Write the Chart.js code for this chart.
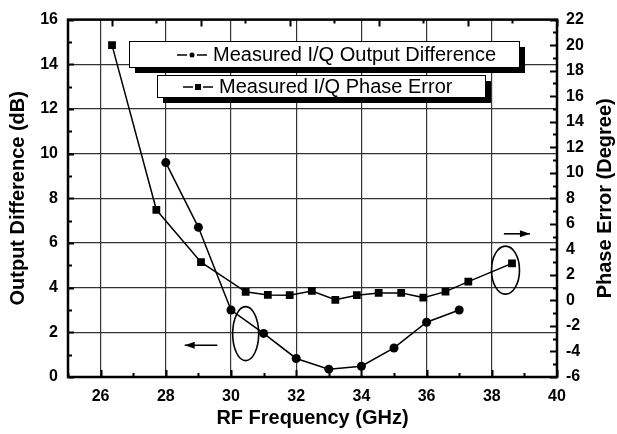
<!DOCTYPE html>
<html>
<head>
<meta charset="utf-8">
<script src="https://cdn.jsdelivr.net/npm/chart.js@4/dist/chart.umd.min.js"></script>
<style>
  html, body { margin: 0; padding: 0; background: #fff; }
  canvas { display: block; }
</style>
</head>
<body>
<canvas id="chart" width="617" height="434"></canvas>
<script>
// measured I/Q output difference (left axis, dB)
const diffFreq = [28, 29, 30, 31, 32, 33, 34, 35, 36, 37];
const outputDiff = [9.6, 6.7, 3.0, 1.95, 0.83, 0.35, 0.48, 1.3, 2.45, 3.0];

// measured I/Q phase error (right axis, degree)
const phaseFreq = [26.35, 27.71, 29.08, 30.45, 31.13, 31.8, 32.48, 33.2, 33.86, 34.53, 35.22, 35.9, 36.58, 37.28, 38.62];
const phaseErr = [20.0, 7.1, 3.0, 0.67, 0.43, 0.41, 0.74, 0.05, 0.41, 0.59, 0.59, 0.22, 0.69, 1.47, 2.9];

const xTicks = [26, 28, 30, 32, 34, 36, 38, 40];
const leftTicks = [0, 2, 4, 6, 8, 10, 12, 14, 16];
const rightTicks = [-6, -4, -2, 0, 2, 4, 6, 8, 10, 12, 14, 16, 18, 20, 22];

const legendLabels = ['Measured I/Q Output Difference', 'Measured I/Q Phase Error'];

const FONT = "'Liberation Sans', Arial, sans-serif";

// fixed axis sizes so the plot area sits where it does in the figure
function fixWidth(w) { return function (scale) { scale.width = w; }; }

// inward tick marks, frame, legend boxes and the little ellipses/arrows
const decorations = {
  id: 'decorations',
  afterDatasetsDraw(chart) {
    const ctx = chart.ctx;
    // legend boxes with black drop shadow
    const boxes = [
      { x: 129, y: 41, w: 390, h: 26, tx: 213, style: 'circle' },
      { x: 157, y: 75, w: 328, h: 22, tx: 219, style: 'rect' }
    ];
    ctx.save();
    boxes.forEach((b, i) => {
      ctx.fillStyle = '#000';
      ctx.fillRect(b.x + 6, b.y + 6, b.w, b.h);
      ctx.fillStyle = '#fff';
      ctx.fillRect(b.x, b.y, b.w, b.h);
      ctx.strokeStyle = '#000';
      ctx.lineWidth = 1;
      ctx.strokeRect(b.x + 0.5, b.y + 0.5, b.w, b.h);
      const cy = b.y + b.h / 2 + 1;
      const mx = b.tx - 21;
      // line - marker - line, with small gaps
      ctx.beginPath();
      ctx.moveTo(b.tx - 36, cy);
      ctx.lineTo(mx - 5, cy);
      ctx.moveTo(mx + 5, cy);
      ctx.lineTo(b.tx - 6, cy);
      ctx.lineWidth = 1.5;
      ctx.stroke();
      ctx.fillStyle = '#000';
      if (b.style === 'circle') {
        ctx.beginPath();
        ctx.arc(mx, cy, 2.5, 0, Math.PI * 2);
        ctx.fill();
      } else {
        ctx.fillRect(mx - 3, cy - 3, 6, 6);
      }
      ctx.font = '20px ' + FONT;
      ctx.textAlign = 'left';
      ctx.textBaseline = 'middle';
      ctx.fillText(legendLabels[i], b.tx, cy);
    });
    ctx.restore();
  },
  afterDraw(chart) {
    const ctx = chart.ctx;
    const { x, y, y2 } = chart.scales;
    const a = chart.chartArea;
    ctx.save();
    ctx.strokeStyle = '#000';
    ctx.fillStyle = '#000';

    // ellipses marking which curve belongs to which axis
    ctx.lineWidth = 1.6;
    ctx.beginPath();
    ctx.ellipse(x.getPixelForValue(30.45), y.getPixelForValue(1.94), 13, 27, 0, 0, Math.PI * 2);
    ctx.stroke();
    ctx.beginPath();
    ctx.ellipse(x.getPixelForValue(38.42), y2.getPixelForValue(2.37), 14, 24, 0, 0, Math.PI * 2);
    ctx.stroke();

    function arrow(x0, x1, py) {
      ctx.lineWidth = 1.6;
      ctx.beginPath();
      ctx.moveTo(x0, py);
      ctx.lineTo(x1, py);
      ctx.stroke();
      const d = Math.sign(x1 - x0);
      ctx.beginPath();
      ctx.moveTo(x1, py);
      ctx.lineTo(x1 - d * 10, py - 3.5);
      ctx.lineTo(x1 - d * 10, py + 3.5);
      ctx.closePath();
      ctx.fill();
    }
    arrow(x.getPixelForValue(29.58), x.getPixelForValue(28.58), y.getPixelForValue(1.42));
    arrow(x.getPixelForValue(38.37), x.getPixelForValue(39.17), y2.getPixelForValue(5.22));

    // inward ticks
    ctx.lineWidth = 2;
    ctx.beginPath();
    for (let v = 25; v <= 40; v++) {
      const px = Math.round(x.getPixelForValue(v)) + 0.5;
      const len = v % 2 === 0 ? 7 : 4;
      ctx.moveTo(px, a.bottom);
      ctx.lineTo(px, a.bottom - len);
    }
    for (let v = 0; v <= 16; v++) {
      const py = Math.round(y.getPixelForValue(v)) + 0.5;
      const len = v % 2 === 0 ? 6 : 4;
      ctx.moveTo(a.left, py);
      ctx.lineTo(a.left + len, py);
    }
    for (let v = -6; v <= 22; v++) {
      const py = Math.round(y2.getPixelForValue(v)) + 0.5;
      const len = v % 2 === 0 ? 7 : 4;
      ctx.moveTo(a.right, py);
      ctx.lineTo(a.right - len, py);
    }
    // top axis has its own spacing
    for (let k = 0; k < 11; k++) {
      const v = 26.34 + k * 1.366;
      if (v > 40) break;
      const px = Math.round(x.getPixelForValue(v)) + 0.5;
      const len = k % 2 === 0 ? 7 : 4;
      ctx.moveTo(px, a.top);
      ctx.lineTo(px, a.top + len);
    }
    ctx.stroke();

    // frame
    ctx.lineWidth = 2.5;
    ctx.strokeRect(a.left, a.top, a.right - a.left, a.bottom - a.top);

    // right title reads bottom to top like the left one
    ctx.font = 'bold 20px ' + FONT;
    ctx.textAlign = 'center';
    ctx.textBaseline = 'middle';
    ctx.translate(605, (a.top + a.bottom) / 2);
    ctx.rotate(-Math.PI / 2);
    ctx.fillText('Phase Error (Degree)', 0, 0);
    ctx.restore();
  }
};

new Chart(document.getElementById('chart'), {
  type: 'scatter',
  data: {
    datasets: [
      {
        label: legendLabels[0],
        data: diffFreq.map((f, i) => ({ x: f, y: outputDiff[i] })),
        yAxisID: 'y',
        showLine: true,
        borderColor: '#000',
        backgroundColor: '#000',
        borderWidth: 1.5,
        pointStyle: 'circle',
        pointRadius: 4.5,
        pointBorderWidth: 0
      },
      {
        label: legendLabels[1],
        data: phaseFreq.map((f, i) => ({ x: f, y: phaseErr[i] })),
        yAxisID: 'y2',
        showLine: true,
        borderColor: '#000',
        backgroundColor: '#000',
        borderWidth: 1.5,
        pointStyle: 'rect',
        pointRadius: 5.5,
        pointBorderWidth: 0
      }
    ]
  },
  options: {
    responsive: false,
    animation: false,
    devicePixelRatio: 1,
    layout: { padding: { top: 16, left: 0, right: 0, bottom: 0 } },
    plugins: {
      legend: { display: false },
      tooltip: { enabled: false }
    },
    scales: {
      x: {
        type: 'linear',
        min: 25,
        max: 40,
        afterBuildTicks: s => { s.ticks = xTicks.map(v => ({ value: v })); },
        afterFit: s => { s.height = 57; },
        ticks: {
          color: '#000',
          padding: 10,
          font: { family: FONT, size: 16, weight: 'bold' }
        },
        grid: { color: '#333', lineWidth: 1.2, drawTicks: false },
        border: { display: false },
        title: {
          display: true,
          text: 'RF Frequency (GHz)',
          color: '#000',
          padding: { top: 0, bottom: 4 },
          font: { family: FONT, size: 20, weight: 'bold' }
        }
      },
      y: {
        type: 'linear',
        position: 'left',
        min: 0,
        max: 16,
        afterBuildTicks: s => { s.ticks = leftTicks.map(v => ({ value: v })); },
        afterFit: fixWidth(68),
        ticks: {
          color: '#000',
          padding: 10,
          font: { family: FONT, size: 16, weight: 'bold' }
        },
        grid: { color: '#333', lineWidth: 1.2, drawTicks: false },
        border: { display: false },
        title: {
          display: true,
          text: 'Output Difference (dB)',
          color: '#000',
          padding: { top: 6, bottom: 0 },
          font: { family: FONT, size: 20, weight: 'bold' }
        }
      },
      y2: {
        type: 'linear',
        position: 'right',
        min: -6,
        max: 22,
        afterBuildTicks: s => { s.ticks = rightTicks.map(v => ({ value: v })); },
        afterFit: fixWidth(60),
        ticks: {
          color: '#000',
          padding: 9,
          font: { family: FONT, size: 16, weight: 'bold' }
        },
        grid: { display: false, drawTicks: false },
        border: { display: false }
      }
    }
  },
  plugins: [decorations]
});
</script>
</body>
</html>
